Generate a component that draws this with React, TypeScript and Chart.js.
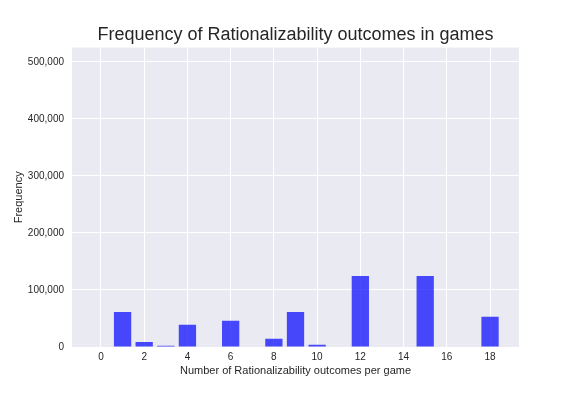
import React, { useEffect, useRef } from "react";
import { Chart, registerables } from "chart.js";

Chart.register(...registerables);

const xValues = [1, 2, 3, 4, 6, 8, 9, 10, 12, 15, 18];
const frequencies = [61500, 8800, 2000, 39000, 46000, 14500, 61500, 4000, 124500, 124500, 53000];
const xTicks = [0, 2, 4, 6, 8, 10, 12, 14, 16, 18];
const yTicks = [0, 100000, 200000, 300000, 400000, 500000];

const titleText = "Frequency of Rationalizability outcomes in games";
const xLabel = "Number of Rationalizability outcomes per game";
const yLabel = "Frequency";

const bgPlugin = {
  id: "plotBg",
  afterLayout(chart: any) {
    const tb = chart.titleBlock;
    if (tb) {
      tb.left = chart.chartArea.left;
      tb.right = chart.chartArea.right;
      tb.width = tb.right - tb.left;
    }
  },
  beforeDraw(chart: any) {
    const { ctx, chartArea } = chart;
    ctx.save();
    ctx.fillStyle = "#EAEAF2";
    ctx.fillRect(chartArea.left, chartArea.top, chartArea.right - chartArea.left, chartArea.bottom - chartArea.top);
    ctx.restore();
  },
};

export default function App() {
  const ref = useRef<HTMLCanvasElement | null>(null);
  useEffect(() => {
    document.body.style.margin = "0";
    const canvas = ref.current!;
    const chart = new Chart(canvas, {
      type: "bar",
      data: {
        datasets: [
          {
            data: xValues.map((x, i) => ({ x, y: frequencies[i] })),
            backgroundColor: "rgba(0,0,255,0.7)",
            borderWidth: 0,
            barPercentage: 0.8,
            categoryPercentage: 1,
          },
        ],
      },
      options: {
        responsive: false,
        animation: false,
        devicePixelRatio: 1,
        layout: { padding: { left: 0, right: 57, top: 0, bottom: 0 } },
        plugins: {
          legend: { display: false },
          tooltip: { enabled: false },
          title: {
            display: true,
            text: titleText,
            color: "#262626",
            font: { family: "'Liberation Sans', Arial, sans-serif", size: 18, weight: "normal" },
            padding: { top: 24, bottom: 2 },
          },
        },
        scales: {
          x: {
            type: "linear",
            offset: false,
            min: -1.34,
            max: 19.34,
            grid: { color: "#FFFFFF", lineWidth: 1, drawTicks: false, offset: false },
            border: { display: false },
            afterBuildTicks: (scale: any) => {
              scale.ticks = xTicks.map((v) => ({ value: v }));
            },
            afterFit: (scale: any) => {
              scale.height = 49;
            },
            ticks: {
              color: "#262626",
              padding: 4,
              font: { family: "'Liberation Sans', Arial, sans-serif", size: 10 },
              maxRotation: 0,
            },
            title: {
              display: true,
              text: xLabel,
              color: "#262626",
              font: { family: "'Liberation Sans', Arial, sans-serif", size: 11 },
              padding: { top: 0, bottom: 18 },
            },
          },
          y: {
            min: 0,
            max: 525000,
            grid: { color: "#FFFFFF", lineWidth: 1, drawTicks: false },
            border: { display: false },
            afterBuildTicks: (scale: any) => {
              scale.ticks = yTicks.map((v) => ({ value: v }));
            },
            afterFit: (scale: any) => {
              scale.width = 72;
            },
            ticks: {
              color: "#262626",
              padding: 8,
              font: { family: "'Liberation Sans', Arial, sans-serif", size: 10 },
              callback: (v: any) => Number(v).toLocaleString("en-US"),
            },
            title: {
              display: true,
              text: yLabel,
              color: "#262626",
              font: { family: "'Liberation Sans', Arial, sans-serif", size: 11 },
              padding: { top: 12, bottom: 0 },
            },
          },
        },
      },
      plugins: [bgPlugin],
    } as any);
    return () => chart.destroy();
  }, []);
  return (
    <div style={{ position: "absolute", left: 0, top: 0, width: 576, height: 396, background: "#FFFFFF" }}>
      <canvas ref={ref} width={576} height={396} style={{ display: "block", width: 576, height: 396 }} />
    </div>
  );
}
